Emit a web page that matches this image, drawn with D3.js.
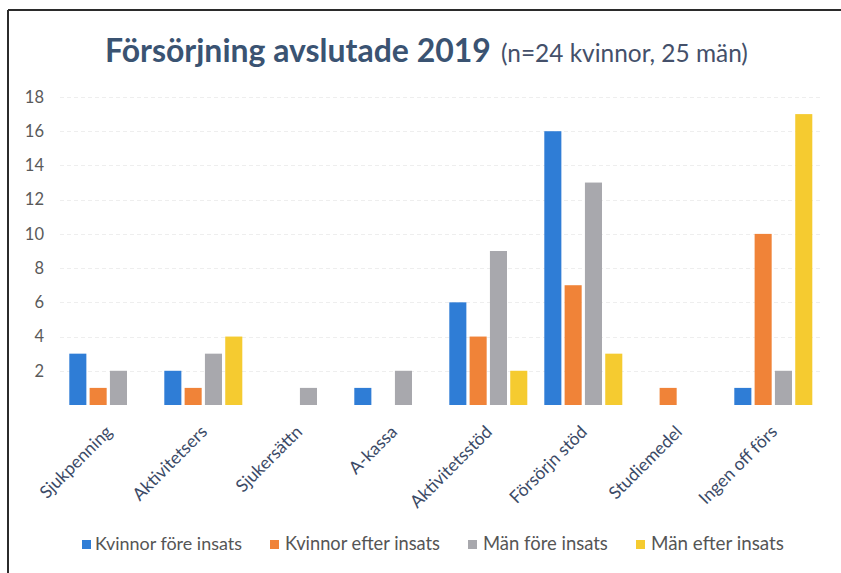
<!DOCTYPE html>
<html>
<head>
<meta charset="utf-8">
<script src="https://cdn.jsdelivr.net/npm/d3@7"></script>
<style>
  html, body { margin: 0; padding: 0; background: #fff; }
  svg { display: block; }
  text { font-family: Lato, "Open Sans", sans-serif; }
</style>
</head>
<body>
<svg id="chart" width="841" height="573"></svg>
<script>
const categories = ["Sjukpenning", "Aktivitetsers", "Sjukersättn", "A-kassa", "Aktivitetsstöd", "Försörjn stöd", "Studiemedel", "Ingen off förs"];
const seriesNames = ["Kvinnor före insats", "Kvinnor efter insats", "Män före insats", "Män efter insats"];
const kvinnorFore = [3, 2, 0, 1, 6, 16, 0, 1];
const kvinnorEfter = [1, 1, 0, 0, 4, 7, 1, 10];
const manFore = [2, 3, 1, 2, 9, 13, 0, 2];
const manEfter = [0, 4, 0, 0, 2, 3, 0, 17];
const yTicks = [2, 4, 6, 8, 10, 12, 14, 16, 18];
const seriesColors = ["#2f7dd6", "#f08338", "#a8a8ad", "#f5cb30"];
const titleMain = "Försörjning avslutade 2019";
const titleSub = "(n=24 kvinnor, 25 män)";

const seriesValues = [kvinnorFore, kvinnorEfter, manFore, manEfter];

const svg = d3.select("#chart");

// frame
svg.append("line").attr("x1", 8).attr("x2", 841).attr("y1", 10).attr("y2", 10)
  .attr("stroke", "#2b2b2b").attr("stroke-width", 2);
svg.append("line").attr("x1", 8).attr("x2", 8).attr("y1", 10).attr("y2", 573)
  .attr("stroke", "#2b2b2b").attr("stroke-width", 2);

function fitWidth(sel, w) {
  const node = sel.node();
  const fs = parseFloat(sel.attr("font-size"));
  const len = node.getComputedTextLength();
  sel.attr("font-size", (fs * w / len).toFixed(2));
}

// title
const t1 = svg.append("text").attr("x", 105).attr("y", 62)
  .attr("font-size", 28).attr("font-weight", "bold").attr("fill", "#3a5372")
  .text(titleMain);
fitWidth(t1, 386);
const t2 = svg.append("text").attr("x", 501).attr("y", 62)
  .attr("font-size", 19).attr("fill", "#44506a")
  .text(titleSub);
fitWidth(t2, 247);

const x0 = d3.scaleBand().domain(categories).range([60.8, 820.8]).padding(0);
const x1 = d3.scaleBand().domain(d3.range(seriesNames.length))
  .range([8.5, 86.5]).paddingInner(0.16).paddingOuter(0);
const y = d3.scaleLinear().domain([0, 18]).range([405, 97]);

// gridlines
svg.append("g").selectAll("line").data(yTicks).join("line")
  .attr("x1", 60).attr("x2", 821)
  .attr("y1", d => Math.round(y(d)) + 0.5).attr("y2", d => Math.round(y(d)) + 0.5)
  .attr("stroke", "#eeeeee").attr("stroke-width", 1)
  .attr("stroke-dasharray", "4,3");

// y axis labels
const yAxis = d3.axisLeft(y).tickValues(yTicks).tickSize(0).tickPadding(0);
const yg = svg.append("g").attr("transform", "translate(44,0)").call(yAxis);
yg.select(".domain").remove();
yg.selectAll("text").attr("font-size", 16.5).attr("fill", "#5a5a5a")
  .attr("font-family", "Lato, sans-serif");

// bars
const groups = svg.append("g").selectAll("g").data(categories).join("g")
  .attr("transform", d => `translate(${x0(d)},0)`);
groups.selectAll("rect")
  .data((c, i) => seriesValues.map((vals, s) => ({ s, v: vals[i] })).filter(d => d.v > 0))
  .join("rect")
  .attr("x", d => x1(d.s))
  .attr("width", x1.bandwidth())
  .attr("y", d => y(d.v))
  .attr("height", d => y(0) - y(d.v))
  .attr("fill", d => seriesColors[d.s]);

// x labels rotated
const xAxis = d3.axisBottom(x0).tickSize(0).tickPadding(0);
const xg = svg.append("g").call(xAxis);
xg.select(".domain").remove();
xg.selectAll(".tick").attr("transform", d => `translate(${x0(d) + x0.bandwidth() / 2 + 5},433)`);
xg.selectAll("text")
  .attr("y", 0).attr("x", 0).attr("dy", 0)
  .attr("text-anchor", "end")
  .attr("transform", "rotate(-45)")
  .attr("font-size", 17.5).attr("fill", "#3b4a66")
  .attr("font-family", "Lato, sans-serif");

// legend
const legendPos = [
  { sx: 82, tx: 95, w: 147 },
  { sx: 270, tx: 285, w: 155 },
  { sx: 468, tx: 483, w: 125 },
  { sx: 636, tx: 651, w: 133 }
];
const lg = svg.append("g");
seriesNames.forEach((name, i) => {
  lg.append("rect").attr("x", legendPos[i].sx).attr("y", 540).attr("width", 9).attr("height", 9)
    .attr("fill", seriesColors[i]);
  const t = lg.append("text").attr("x", legendPos[i].tx).attr("y", 550)
    .attr("font-size", 16).attr("fill", "#555").text(name);
  fitWidth(t, legendPos[i].w);
});
</script>
</body>
</html>
